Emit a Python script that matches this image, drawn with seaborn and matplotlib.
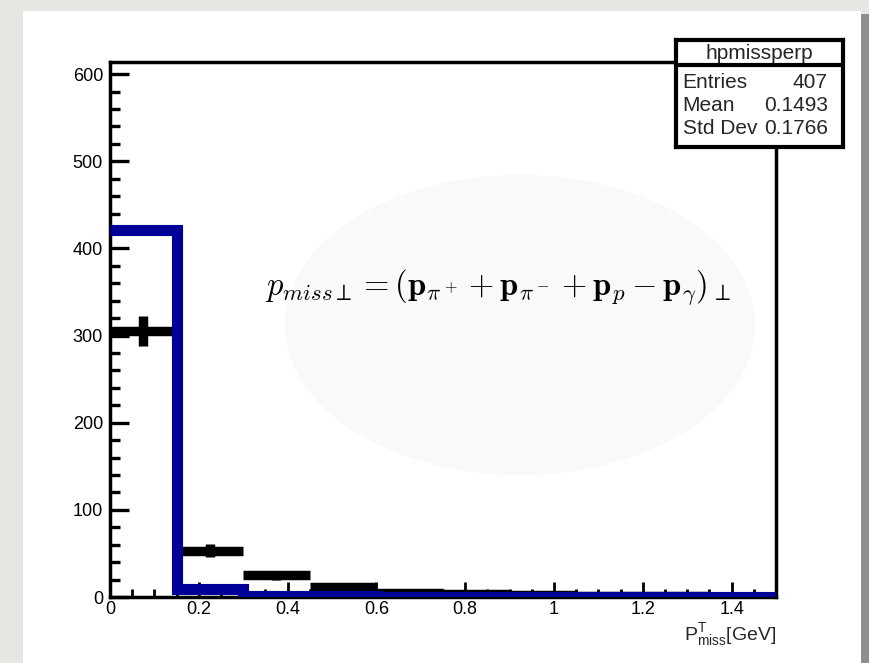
import numpy as np
import matplotlib
matplotlib.use("Agg")
import matplotlib.pyplot as plt
import matplotlib.ticker as mticker
from matplotlib.patches import Rectangle, Ellipse
import seaborn as sns

# -----------------------------------------------------------------------------
# Style
# -----------------------------------------------------------------------------
sns.set_theme(style="ticks")
plt.rcParams["font.family"] = ["Liberation Sans", "DejaVu Sans"]
plt.rcParams["mathtext.fontset"] = "custom"
plt.rcParams["mathtext.rm"] = "Liberation Sans"
plt.rcParams["mathtext.it"] = "Liberation Sans:italic"

# -----------------------------------------------------------------------------
# Data
# -----------------------------------------------------------------------------
bin_edges = [0.0, 0.15, 0.30, 0.45, 0.60, 0.75, 0.90, 1.05, 1.20, 1.35, 1.50]
bin_centers = [0.075, 0.225, 0.375, 0.525, 0.675, 0.825, 0.975, 1.125, 1.275, 1.425]
data_counts = [305, 53, 25, 12, 5, 3, 2, 1, 1, 0]
data_errors = [17.5, 7.3, 5.0, 3.5, 2.2, 1.7, 1.4, 1.0, 1.0, 0.0]
sim_counts = [421, 9, 1, 1, 0.5, 0.5, 0.5, 0.3, 0.3, 0.3]

stats_title = "hpmissperp"
stats_names = ["Entries", "Mean", "Std Dev"]
stats_values = ["407", "0.1493", "0.1766"]

blue = "#000099"
W, H = 870, 663

# -----------------------------------------------------------------------------
# Figure and slide background
# -----------------------------------------------------------------------------
fig = plt.figure(figsize=(8.7, 6.63), dpi=100)
fig.patch.set_facecolor("#e7e6e2")
fig.add_artist(Rectangle((861 / W, 0), 9 / W, 1 - 14 / H, transform=fig.transFigure,
                         facecolor="#8e8e8e", edgecolor="none", zorder=0))
fig.add_artist(Rectangle((23 / W, 0), 838 / W, 1 - 11 / H, transform=fig.transFigure,
                         facecolor="white", edgecolor="none", zorder=0))
fig.add_artist(Ellipse((520 / W, 1 - 325 / H), 470 / W, 300 / H, transform=fig.transFigure,
                       facecolor="#f9f9f9", edgecolor="none", zorder=0))

ax = fig.add_axes([110 / W, 1 - 597 / H, 666 / W, 535 / H])
ax.set_facecolor("none")

# simulation histogram
sns.histplot(x=bin_centers, weights=sim_counts, bins=bin_edges, element="step",
             fill=False, color=blue, linewidth=8, ax=ax, zorder=3)
for ln in ax.lines:
    ln.set_solid_joinstyle("miter")
    ln.set_solid_capstyle("butt")

# data points
x_pts = [c for c, n in zip(bin_centers, data_counts) if n > 0]
y_pts = [n for n in data_counts if n > 0]
e_pts = [e for e, n in zip(data_errors, data_counts) if n > 0]
ax.errorbar(x_pts, y_pts, xerr=0.075, yerr=e_pts, fmt="none", ecolor="black",
            elinewidth=6.8, capsize=0, zorder=2)

ax.set_xlim(0, 1.5)
ax.set_ylim(0, 614)
ax.set_ylabel("")
ax.set_xlabel(r"P$^{\mathrm{T}}_{\mathrm{miss}}$[GeV]", fontsize=14, loc="right",
              labelpad=2)

ax.xaxis.set_major_locator(mticker.MultipleLocator(0.2))
ax.xaxis.set_minor_locator(mticker.MultipleLocator(0.05))
ax.yaxis.set_major_locator(mticker.MultipleLocator(100))
ax.yaxis.set_minor_locator(mticker.MultipleLocator(20))
ax.xaxis.set_major_formatter(mticker.FuncFormatter(lambda v, p: f"{v:g}"))

ax.tick_params(axis="both", which="both", direction="in", colors="black",
               labelsize=13, top=False, right=False)
ax.tick_params(axis="y", which="major", length=14, width=2.4, pad=5)
ax.tick_params(axis="y", which="minor", length=7, width=2.4)
ax.tick_params(axis="x", which="major", length=11, width=2, pad=3)
ax.tick_params(axis="x", which="minor", length=5.5, width=2)
for sp in ax.spines.values():
    sp.set_visible(True)
    sp.set_linewidth(2.5)
    sp.set_color("black")

# equation
ax.text(0.583, 0.58, r"$p_{miss\perp} = (\mathbf{p}_{\pi^+} + \mathbf{p}_{\pi^-} + \mathbf{p}_p - \mathbf{p}_\gamma)_\perp$",
        transform=ax.transAxes, fontsize=23.5, math_fontfamily="cm", color="black",
        ha="center", va="center", zorder=4)

# -----------------------------------------------------------------------------
# Stats box
# -----------------------------------------------------------------------------
sb = fig.add_axes([676 / W, 1 - 147 / H, 167 / W, 107 / H])
sb.set_facecolor("white")
sb.set_xticks([])
sb.set_yticks([])
for sp in sb.spines.values():
    sp.set_linewidth(3)
    sp.set_color("black")
sb.axhline(0.766, color="black", lw=3)
sb.text(0.5, 0.87, stats_title, ha="center", va="center", fontsize=15)
for i, (nm, val) in enumerate(zip(stats_names, stats_values)):
    yy = 0.6 - i * 0.215
    sb.text(0.04, yy, nm, ha="left", va="center", fontsize=15)
    sb.text(0.91, yy, val, ha="right", va="center", fontsize=15)

fig.savefig("out.png", dpi=100, facecolor=fig.get_facecolor())
